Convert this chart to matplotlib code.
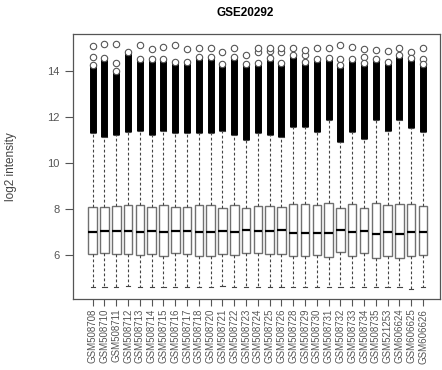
import numpy as np
import matplotlib
matplotlib.use("Agg")
import matplotlib.pyplot as plt

plt.rcParams['font.family'] = ['Liberation Sans', 'DejaVu Sans']

# sample names
samples = ["GSM508708", "GSM508710", "GSM508711", "GSM508712", "GSM508713",
           "GSM508714", "GSM508715", "GSM508716", "GSM508717", "GSM508718",
           "GSM508720", "GSM508721", "GSM508722", "GSM508723", "GSM508724",
           "GSM508725", "GSM508726", "GSM508728", "GSM508729", "GSM508730",
           "GSM508731", "GSM508732", "GSM508733", "GSM508734", "GSM508735",
           "GSM521253", "GSM606624", "GSM606625", "GSM606626"]

# box statistics (log2 intensity)
q1 = [6.02, 6.06, 6.02, 6.02, 5.99, 6.02, 5.94, 6.06, 6.02, 5.94,
      5.94, 6.02, 5.99, 6.07, 6.05, 6.04, 6.04, 5.93, 5.93, 5.97,
      5.90, 6.12, 5.93, 6.06, 5.84, 5.96, 5.84, 5.96, 6.00]
med = [6.97, 7.02, 7.02, 7.02, 6.99, 7.02, 6.97, 7.02, 7.02, 6.99,
       6.97, 7.02, 6.99, 7.07, 7.03, 7.02, 7.06, 6.94, 6.94, 6.96,
       6.94, 7.06, 6.97, 7.03, 6.91, 6.97, 6.91, 6.97, 7.00]
q3 = [8.09, 8.09, 8.12, 8.17, 8.17, 8.09, 8.17, 8.09, 8.09, 8.17,
      8.17, 8.04, 8.17, 8.04, 8.10, 8.13, 8.09, 8.19, 8.22, 8.17,
      8.26, 8.02, 8.22, 8.04, 8.26, 8.16, 8.22, 8.19, 8.13]
whis_lo = [4.60, 4.60, 4.60, 4.65, 4.60, 4.60, 4.60, 4.58, 4.60, 4.60,
           4.60, 4.63, 4.60, 4.60, 4.60, 4.60, 4.60, 4.60, 4.60, 4.60,
           4.60, 4.58, 4.60, 4.60, 4.60, 4.60, 4.60, 4.50, 4.58]
whis_hi = [11.30, 11.10, 11.20, 11.35, 11.40, 11.20, 11.40, 11.30, 11.30, 11.30,
           11.30, 11.40, 11.20, 11.00, 11.30, 11.20, 11.10, 11.55, 11.55, 11.35,
           11.85, 10.90, 11.35, 11.05, 11.85, 11.40, 11.85, 11.50, 11.35]
# top of the dense run of outliers
dense_top = [14.25, 14.55, 14.00, 14.80, 14.50, 14.50, 14.50, 14.40, 14.40, 14.60,
             14.60, 14.30, 14.60, 14.30, 14.32, 14.55, 14.35, 14.70, 14.40, 14.50,
             14.55, 14.25, 14.50, 14.33, 14.50, 14.40, 14.70, 14.55, 14.30]
# separate outliers above the dense run
sparse = [[14.6, 15.07], [15.15], [14.35, 15.15], [], [15.1],
          [14.95], [15.05], [15.1], [14.95], [15.0],
          [15.0], [14.8], [15.0], [14.7], [14.8, 15.0],
          [14.85, 15.0], [14.8, 15.0], [15.0], [14.7, 14.9], [15.0],
          [14.97], [14.5, 15.1], [15.05], [14.6, 14.95], [14.9],
          [14.85], [15.0], [14.8], [14.5, 15.0]]

fig = plt.figure(figsize=(4.42, 3.70), dpi=100)
ax = fig.add_axes([73 / 442, 1 - 299 / 370, 367 / 442, 265 / 370])

pos = np.arange(1, len(samples) + 1)
stats = []
for i in range(len(samples)):
    stats.append(dict(whislo=whis_lo[i], q1=q1[i], med=med[i], q3=q3[i],
                      whishi=whis_hi[i], fliers=sparse[i] + [dense_top[i]]))

# dense outlier columns
ax.vlines(pos, whis_hi, dense_top, colors='black', lw=5.0, zorder=2)

ax.bxp(stats, positions=pos, widths=0.72, patch_artist=True,
       boxprops=dict(facecolor='white', edgecolor='#707070', lw=1.0),
       medianprops=dict(color='black', lw=1.6),
       whiskerprops=dict(color='#444444', lw=0.8, linestyle=(0, (2.5, 2))),
       capprops=dict(color='#444444', lw=0.8), capwidths=0.36,
       flierprops=dict(marker='o', markersize=4.6, markerfacecolor='white',
                       markeredgecolor='#555555', markeredgewidth=0.8),
       zorder=3)

ax.set_xlim(-0.67, 30.44)
ax.set_ylim(4.07, 15.6)
ax.set_yticks([6, 8, 10, 12, 14])
ax.set_xticks(pos)
ax.set_xticklabels(samples, rotation=90, fontsize=7.0, color='#555555')
ax.tick_params(axis='y', labelsize=8, colors='#555555', length=6, width=0.8)
ax.tick_params(axis='x', length=5, width=0.8, colors='#555555', pad=2)
for s in ax.spines.values():
    s.set_color('#555555')
    s.set_linewidth(0.9)

ax.set_ylabel('log2 intensity', fontsize=8.5, color='#444444', labelpad=22)
fig.text(245 / 442, 1 - 13 / 370, 'GSE20292', ha='center', va='center',
         fontsize=8.5, fontweight='bold')

fig.savefig('out.png', dpi=100)
